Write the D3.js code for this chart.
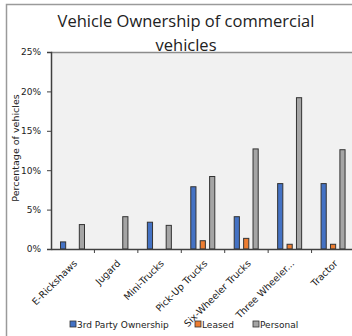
<!DOCTYPE html>
<html>
<head>
<meta charset="utf-8">
<script src="https://cdn.jsdelivr.net/npm/d3@7"></script>
<style>
  body { margin: 0; background: #fff; }
  svg { display: block; font-family: "DejaVu Sans", sans-serif; }
</style>
</head>
<body>
<svg id="chart"></svg>
<script>
// Chart size
var w = 352;
var h = 336;

// Data (percent of vehicles)
var categories = ["E-Rickshaws", "Jugard", "Mini-Trucks", "Pick-Up Trucks", "Six-Wheeler Trucks", "Three Wheeler...", "Tractor"];
var series = ["3rd Party Ownership", "Leased", "Personal"];
var thirdParty = [0.9, 0, 3.4, 7.9, 4.1, 8.3, 8.3];
var leased = [0, 0, 0, 1.05, 1.35, 0.6, 0.6];
var personal = [3.1, 4.1, 3.0, 9.2, 12.7, 19.2, 12.6];
var yTicks = [0, 5, 10, 15, 20, 25];
var colors = ["#4472c4", "#ed7d31", "#a5a5a5"];

var values = [thirdParty, leased, personal];

// Plot area
var plotLeft = 51, plotRight = 355, plotTop = 52, plotBottom = 249;

var svg = d3.select("#chart")
    .attr("width", w)
    .attr("height", h);

// outer chart border
svg.append("rect")
    .attr("x", 6.5).attr("y", 4.5)
    .attr("width", 360).attr("height", 340)
    .attr("fill", "#fff")
    .attr("stroke", "#9a9a9a")
    .attr("stroke-width", 1.5);

var x = d3.scaleBand()
    .domain(categories)
    .range([plotLeft, plotRight]);

var xSub = d3.scaleBand()
    .domain(series)
    .range([9.5, 33.5])
    .paddingInner(0.45);

var y = d3.scaleLinear()
    .domain([0, 25])
    .range([plotBottom, plotTop]);

// plot background
svg.append("rect")
    .attr("x", plotLeft).attr("y", plotTop)
    .attr("width", plotRight - plotLeft).attr("height", plotBottom - plotTop)
    .attr("fill", "#f1f1f1");

// top line of plot area
svg.append("line")
    .attr("x1", plotLeft).attr("x2", plotRight)
    .attr("y1", plotTop + 0.5).attr("y2", plotTop + 0.5)
    .attr("stroke", "#8c8c8c")
    .attr("stroke-width", 1.5);

// bars
var groups = svg.selectAll("g.series")
    .data(series)
    .enter()
    .append("g")
    .attr("class", "series")
    .attr("fill", function (d, i) { return colors[i]; });

groups.selectAll("rect")
    .data(function (d, i) {
        return categories.map(function (c, j) {
            return { cat: c, s: d, v: values[i][j] };
        }).filter(function (e) { return e.v > 0; });
    })
    .enter()
    .append("rect")
    .attr("x", function (d) { return x(d.cat) + xSub(d.s); })
    .attr("y", function (d) { return y(d.v); })
    .attr("width", xSub.bandwidth())
    .attr("height", function (d) { return plotBottom - y(d.v); })
    .attr("stroke", "#333")
    .attr("stroke-width", 1);

// y axis
var yAxis = d3.axisLeft(y)
    .tickValues(yTicks)
    .tickSize(4)
    .tickFormat(function (d) { return d + "%"; });

var gy = svg.append("g")
    .attr("transform", "translate(" + plotLeft + ",0)")
    .call(yAxis);
gy.select(".domain").attr("stroke", "#404040").attr("stroke-width", 1.5);
gy.selectAll(".tick line").attr("stroke", "#404040");
gy.selectAll("text")
    .attr("font-size", 9)
    .attr("font-family", "DejaVu Sans")
    .attr("fill", "#222")
    .attr("x", -10);

// x axis
var xAxis = d3.axisBottom(x)
    .tickSize(0)
    .tickFormat("");

var gx = svg.append("g")
    .attr("transform", "translate(0," + plotBottom + ")")
    .call(xAxis);
gx.select(".domain").attr("stroke", "#404040").attr("stroke-width", 1.5);
gx.selectAll(".tick").remove();

// tick marks between categories
svg.selectAll("line.sep")
    .data(categories)
    .enter()
    .append("line")
    .attr("class", "sep")
    .attr("x1", function (d) { return x(d) + x.bandwidth(); })
    .attr("x2", function (d) { return x(d) + x.bandwidth(); })
    .attr("y1", plotBottom)
    .attr("y2", plotBottom + 4)
    .attr("stroke", "#404040");

// rotated category labels
svg.selectAll("text.cat")
    .data(categories)
    .enter()
    .append("text")
    .attr("class", "cat")
    .attr("font-size", 9.5)
    .attr("fill", "#222")
    .attr("text-anchor", "end")
    .attr("transform", function (d) {
        return "translate(" + (x(d) + x.bandwidth() / 2 + 5) + "," + (plotBottom + 15) + ") rotate(-45)";
    })
    .text(function (d) { return d; });

// y axis title
svg.append("text")
    .attr("transform", "translate(19,148) rotate(-90)")
    .attr("text-anchor", "middle")
    .attr("font-size", 9.5)
    .attr("fill", "#222")
    .text("Percentage of vehicles");

// chart title
var title = svg.append("text")
    .attr("text-anchor", "middle")
    .attr("font-family", "Open Sans")
    .attr("font-size", 16.5)
    .attr("fill", "#222");
title.append("tspan").attr("x", 186).attr("y", 27).text("Vehicle Ownership of commercial");
title.append("tspan").attr("x", 186).attr("y", 51).text("vehicles");

// legend
var legendX = [70, 195, 253];
var legend = svg.selectAll("g.legend")
    .data(series)
    .enter()
    .append("g")
    .attr("class", "legend")
    .attr("transform", function (d, i) { return "translate(" + legendX[i] + ",321)"; });

legend.append("rect")
    .attr("width", 6).attr("height", 6)
    .attr("fill", function (d, i) { return colors[i]; })
    .attr("stroke", "#333")
    .attr("stroke-width", 0.8);

legend.append("text")
    .attr("x", 7)
    .attr("y", 7)
    .attr("font-size", 9)
    .attr("fill", "#222")
    .text(function (d) { return d; });
</script>
</body>
</html>
